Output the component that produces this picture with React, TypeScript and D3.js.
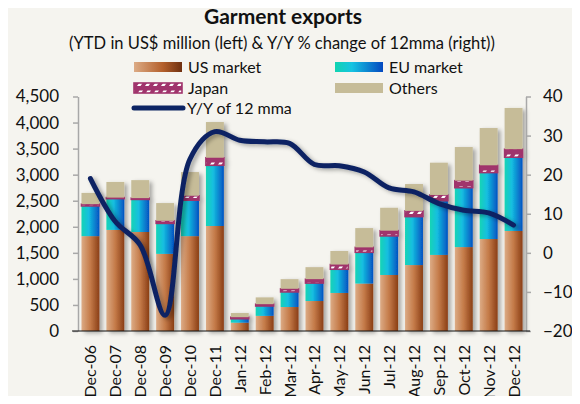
import { useEffect, useRef } from "react";
import * as d3 from "d3";

const categories = [
  "Dec-06", "Dec-07", "Dec-08", "Dec-09", "Dec-10", "Dec-11",
  "Jan-12", "Feb-12", "Mar-12", "Apr-12", "May-12", "Jun-12",
  "Jul-12", "Aug-12", "Sep-12", "Oct-12", "Nov-12", "Dec-12",
];
const usMarket = [1820, 1940, 1900, 1480, 1820, 2015, 160, 290, 460, 575, 730, 910, 1075, 1265, 1460, 1610, 1765, 1920];
const euMarket = [580, 600, 625, 585, 690, 1165, 75, 190, 290, 345, 455, 600, 750, 930, 1040, 1140, 1275, 1415];
const japan = [35, 20, 25, 50, 85, 145, 30, 35, 60, 75, 90, 95, 100, 110, 110, 135, 140, 155];
const others = [215, 300, 345, 340, 455, 685, 80, 130, 185, 230, 260, 370, 440, 515, 620, 645, 715, 790];
const yoy12mma = [19, 8, 2, -16, 24, 31, 28.8, 28.4, 28, 22.6, 22.3, 20.7, 16.6, 15.6, 12.6, 10.9, 10.2, 7.1];

const leftTicks = [0, 500, 1000, 1500, 2000, 2500, 3000, 3500, 4000, 4500];
const rightTicks = [-20, -10, 0, 10, 20, 30, 40];

const FONT = "Lato, 'DejaVu Sans', sans-serif";
const BG = "#f5f4ef";

export default function App() {
  const svgRef = useRef<SVGSVGElement | null>(null);

  useEffect(() => {
    const width = 580;
    const height = 404;
    const marginLeft = 78;
    const marginRight = 54;
    const yTop = 96.5;
    const yBottom = 331;

    const svg = d3.select(svgRef.current)
      .attr("width", width)
      .attr("height", height)
      .style("display", "block")
      .style("background", BG);
    svg.selectAll("*").remove();

    const defs = svg.append("defs");

    // gradients for the bars
    const usGrad = defs.append("linearGradient").attr("id", "gUS").attr("x1", "0").attr("x2", "1").attr("y1", "0").attr("y2", "0");
    usGrad.append("stop").attr("offset", "0%").attr("stop-color", "#dcab85");
    usGrad.append("stop").attr("offset", "50%").attr("stop-color", "#c47a48");
    usGrad.append("stop").attr("offset", "100%").attr("stop-color", "#8a3e15");

    const euGrad = defs.append("linearGradient").attr("id", "gEU").attr("x1", "0").attr("x2", "1").attr("y1", "0").attr("y2", "0");
    euGrad.append("stop").attr("offset", "0%").attr("stop-color", "#12d4b4");
    euGrad.append("stop").attr("offset", "40%").attr("stop-color", "#14bfe0");
    euGrad.append("stop").attr("offset", "100%").attr("stop-color", "#0452c2");

    // Japan: magenta with small white slanted dashes
    const pat = defs.append("pattern").attr("id", "pJP").attr("patternUnits", "userSpaceOnUse")
      .attr("width", 8).attr("height", 8);
    pat.append("rect").attr("width", 8).attr("height", 8).attr("fill", "#a0346c");
    pat.append("polygon").attr("points", "1,6 4.5,6 7,2.5 3.5,2.5").attr("fill", "#ffffff");

    const shadow = defs.append("filter").attr("id", "shadow").attr("x", "-30%").attr("y", "-10%").attr("width", "170%").attr("height", "130%");
    shadow.append("feDropShadow").attr("dx", 3).attr("dy", 2).attr("stdDeviation", 2.2)
      .attr("flood-color", "#000").attr("flood-opacity", 0.33);

    // scales
    const x = d3.scaleBand<string>()
      .domain(categories)
      .range([marginLeft, width - marginRight])
      .paddingInner(0.28)
      .paddingOuter(0.14);

    const yL = d3.scaleLinear().domain([0, 4500]).range([yBottom, yTop]);
    const yR = d3.scaleLinear().domain([-20, 40]).range([yBottom, yTop]);

    // titles
    svg.append("text")
      .attr("x", 283).attr("y", 24)
      .attr("text-anchor", "middle")
      .attr("font-family", FONT).attr("font-weight", "bold").attr("font-size", 21)
      .attr("fill", "#111")
      .text("Garment exports");
    svg.append("text")
      .attr("x", 282).attr("y", 49)
      .attr("text-anchor", "middle")
      .attr("font-family", FONT).attr("font-size", 16.5)
      .attr("fill", "#111")
      .text("(YTD in US$ million (left) & Y/Y % change of 12mma (right))");

    // stacked bars
    const rows = categories.map((c, i) => ({
      cat: c, us: usMarket[i], eu: euMarket[i], jp: japan[i], ot: others[i],
    }));
    const keys = ["us", "eu", "jp", "ot"];
    const fills: Record<string, string> = { us: "url(#gUS)", eu: "url(#gEU)", jp: "url(#pJP)", ot: "#c6bc98" };
    const series = d3.stack<any>().keys(keys)(rows);

    const barsG = svg.append("g").attr("filter", "url(#shadow)");
    series.forEach(s => {
      barsG.append("g")
        .selectAll("rect")
        .data(s)
        .enter()
        .append("rect")
        .attr("x", (d: any) => x(d.data.cat) as number)
        .attr("width", x.bandwidth())
        .attr("y", (d: any) => yL(d[1]))
        .attr("height", (d: any) => Math.max(0, yL(d[0]) - yL(d[1])))
        .attr("fill", fills[s.key])
        .attr("stroke", s.key === "jp" ? "#a0346c" : "none")
        .attr("stroke-width", s.key === "jp" ? 1.6 : 0);
    });

    // left axis
    const leftAxis = svg.append("g")
      .attr("transform", `translate(${marginLeft},0)`)
      .call(d3.axisLeft(yL).tickValues(leftTicks).tickFormat(d3.format(",")).tickSize(5).tickSizeOuter(0).tickPadding(14));
    leftAxis.select(".domain").attr("stroke", "#a8a8a8").attr("stroke-width", 1.5);
    leftAxis.selectAll(".tick line").attr("stroke", "#a8a8a8").attr("stroke-width", 1.5);
    leftAxis.selectAll(".tick text").attr("font-family", FONT).attr("font-size", 17).attr("fill", "#111");

    // right axis
    const rightAxis = svg.append("g")
      .attr("transform", `translate(${width - marginRight},0)`)
      .call(d3.axisRight(yR).tickValues(rightTicks).tickSize(5).tickSizeOuter(0).tickPadding(12));
    rightAxis.select(".domain").attr("stroke", "#a8a8a8").attr("stroke-width", 1.5);
    rightAxis.selectAll(".tick line").attr("stroke", "#a8a8a8").attr("stroke-width", 1.5);
    rightAxis.selectAll(".tick text").attr("font-family", FONT).attr("font-size", 17).attr("fill", "#111");

    // baseline
    svg.append("line")
      .attr("x1", marginLeft - 6).attr("x2", width - marginRight + 4)
      .attr("y1", yBottom).attr("y2", yBottom)
      .attr("stroke", "#111").attr("stroke-width", 1.2);

    // category labels
    svg.append("g")
      .selectAll("text")
      .data(categories)
      .enter()
      .append("text")
      .attr("transform", d => `translate(${(x(d) as number) + x.bandwidth() / 2 + 6},${yBottom + 14}) rotate(-90)`)
      .attr("text-anchor", "end")
      .attr("font-family", FONT).attr("font-size", 16).attr("fill", "#111")
      .text(d => d);

    // line
    const line = d3.line<number>()
      .x((_d, i) => (x(categories[i]) as number) + x.bandwidth() / 2)
      .y(d => yR(d))
      .curve(d3.curveCatmullRom.alpha(0.5));
    svg.append("path")
      .attr("d", line(yoy12mma))
      .attr("fill", "none")
      .attr("stroke", "#0c2463")
      .attr("stroke-width", 5)
      .attr("stroke-linecap", "round")
      .attr("filter", "url(#shadow)");

    // legend
    const lg = svg.append("g").attr("font-family", FONT).attr("font-size", 16).attr("fill", "#111");
    const item = (sx: number, sy: number, fill: string, label: string, stroke = "none") => {
      lg.append("rect").attr("x", sx).attr("y", sy).attr("width", 48).attr("height", 10).attr("fill", fill)
        .attr("stroke", stroke).attr("stroke-width", 1.6);
      lg.append("text").attr("x", sx + 54).attr("y", sy + 10.5).text(label);
    };
    const lgUS = defs.append("linearGradient").attr("id", "lgUS").attr("x1", "0").attr("x2", "1");
    lgUS.append("stop").attr("offset", "0%").attr("stop-color", "#dcab85");
    lgUS.append("stop").attr("offset", "60%").attr("stop-color", "#b4602c");
    lgUS.append("stop").attr("offset", "100%").attr("stop-color", "#6f3010");
    const lgEU = defs.append("linearGradient").attr("id", "lgEU").attr("x1", "0").attr("x2", "1");
    lgEU.append("stop").attr("offset", "0%").attr("stop-color", "#10d4b0");
    lgEU.append("stop").attr("offset", "35%").attr("stop-color", "#16c4e2");
    lgEU.append("stop").attr("offset", "100%").attr("stop-color", "#0448c0");

    item(134, 62, "url(#lgUS)", "US market");
    item(335, 62, "url(#lgEU)", "EU market");
    item(134, 83, "url(#pJP)", "Japan", "#a0346c");
    item(335, 83, "#c6bc98", "Others");
    lg.append("line").attr("x1", 134).attr("x2", 183).attr("y1", 108).attr("y2", 108)
      .attr("stroke", "#0c2463").attr("stroke-width", 5).attr("stroke-linecap", "round");
    lg.append("text").attr("x", 187).attr("y", 113.5).text("Y/Y of 12 mma");
  }, []);

  return (
    <div style={{ margin: -8, background: BG, width: 580, height: 404 }}>
      <svg ref={svgRef} />
    </div>
  );
}
